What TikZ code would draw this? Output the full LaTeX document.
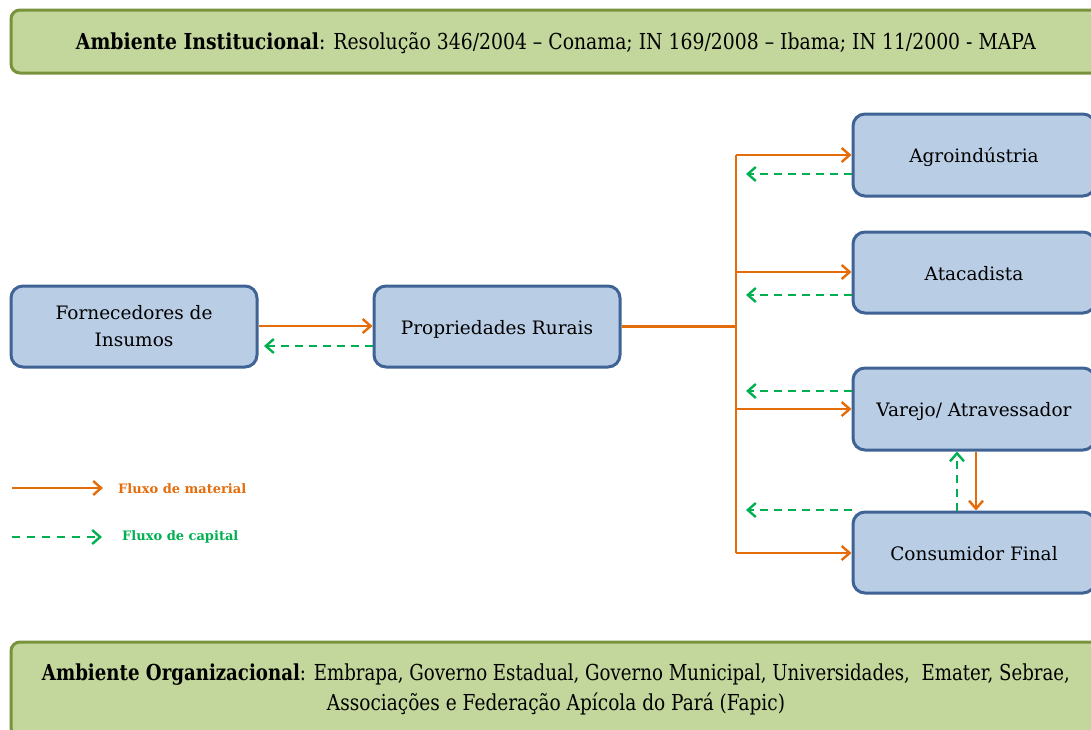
\documentclass[tikz,border=0pt]{standalone}
\usepackage{fontspec}
\setmainfont{DejaVu Serif}
\usetikzlibrary{arrows.meta}
\definecolor{boxfill}{HTML}{B9CDE5}
\definecolor{boxline}{HTML}{3F6394}
\definecolor{banfill}{HTML}{C3D69B}
\definecolor{banline}{HTML}{77933C}
\definecolor{orangeflow}{HTML}{E46C0A}
\definecolor{greenflow}{HTML}{00B050}
\tikzset{
  actor/.style={draw=boxline, fill=boxfill, line width=3pt, rounded corners=12pt,
    minimum width=246pt, minimum height=81pt, inner sep=0pt, align=center,
    font=\fontsize{18.5}{27}\selectfont},
  oneline/.style={text height=20pt, text depth=4.4pt},
  banner/.style={draw=banline, fill=banfill, line width=3pt, rounded corners=9pt,
    inner sep=0pt, align=center},
  material/.style={draw=orangeflow, line width=2.4pt, -{Straight Barb[length=8pt,width=14pt,line width=2.4pt]}},
  capital/.style={draw=greenflow, line width=2.4pt, dash pattern=on 8pt off 6pt,
    -{Straight Barb[length=8pt,width=14pt,line width=2.4pt]}},
  legtext/.style={font=\fontsize{13}{15}\selectfont\bfseries, anchor=west, inner sep=0pt}
}
\begin{document}
\begin{tikzpicture}[x=1pt,y=-1pt]
\useasboundingbox (0,0) rectangle (1091,729);
\clip (0,0) rectangle (1091,729);
% banners
\node[banner, minimum width=1090pt, minimum height=63pt] (inst) at (556,41.5) {};
\node[inner sep=0pt, font=\fontsize{22}{26}\selectfont] (insttext) at (556,43.5)
  {\resizebox{960pt}{\height}{\textbf{Ambiente Institucional}: Resolução 346/2004 – Conama; IN 169/2008 – Ibama; IN 11/2000 - MAPA}};
\node[banner, minimum width=1090pt, minimum height=95pt] (org) at (556,689.5) {};
\node[inner sep=0pt, font=\fontsize{22}{26}\selectfont] (orgtext1) at (556,674.5)
  {\resizebox{1028pt}{\height}{\textbf{Ambiente Organizacional}: Embrapa, Governo Estadual, Governo Municipal, Universidades, \ Emater, Sebrae,}};
\node[inner sep=0pt, font=\fontsize{22}{26}\selectfont] (orgtext2) at (556,703.5)
  {\resizebox{458pt}{\height}{Associações e Federação Apícola do Pará (Fapic)}};
% actors
\node[actor] (forn) at (134,326.5) {Fornecedores de\\Insumos};
\node[actor, oneline] (prop) at (497,326.5) {Propriedades Rurais};
\node[actor, oneline, minimum width=242pt, minimum height=82pt] (agro) at (974,155) {Agroindústria};
\node[actor, oneline, minimum width=242pt] (atac) at (974,272.5) {Atacadista};
\node[actor, oneline, minimum width=242pt, minimum height=82pt] (var) at (974,409) {Varejo/ Atravessador};
\node[actor, oneline, minimum width=242pt] (cons) at (974,552.5) {Consumidor Final};
% trunk coordinates
\coordinate (tmid) at (736,326.5);
\coordinate (ttop) at (736,155);
\coordinate (tatac) at (736,272);
\coordinate (tvar) at (736,409);
\coordinate (tbot) at (736,553);
\coordinate (gagro) at (746,174);
\coordinate (gatac) at (746,295);
\coordinate (gvar) at (746,391);
\coordinate (gcons) at (746,510);
\coordinate (gforn) at (264,346);
% material flows
\draw[material] (forn.east |- 0,326) -- (prop.west |- 0,326);
\draw[orangeflow, line width=2.4pt] (prop.east) -- (tmid);
\draw[orangeflow, line width=2.4pt] (ttop) -- (tbot);
\draw[material] (ttop) -- (agro.west |- ttop);
\draw[material] (tatac) -- (atac.west |- tatac);
\draw[material] (tvar) -- (var.west |- tvar);
\draw[material] (tbot) -- (cons.west |- tbot);
\draw[material] (var.south -| 976,0) -- (cons.north -| 976,0);
% capital flows
\draw[capital] (prop.west |- gforn) -- (gforn);
\draw[capital] (agro.west |- gagro) -- (gagro);
\draw[capital] (atac.west |- gatac) -- (gatac);
\draw[capital] (var.west |- gvar) -- (gvar);
\draw[capital] (cons.west |- gcons) -- (gcons);
\draw[capital] (cons.north -| 957,0) -- (var.south -| 957,0);
% legend
\coordinate (lm1) at (12,488);
\coordinate (lm2) at (103,488);
\coordinate (lc1) at (12,537);
\coordinate (lc2) at (102,537);
\draw[material] (lm1) -- (lm2);
\draw[capital, dash pattern=on 8pt off 7pt] (lc1) -- (lc2);
\node[legtext, text=orangeflow] (lmt) at (118,489) {Fluxo de material};
\node[legtext, text=greenflow] (lct) at (122,537) {Fluxo de capital};
\end{tikzpicture}
\end{document}
